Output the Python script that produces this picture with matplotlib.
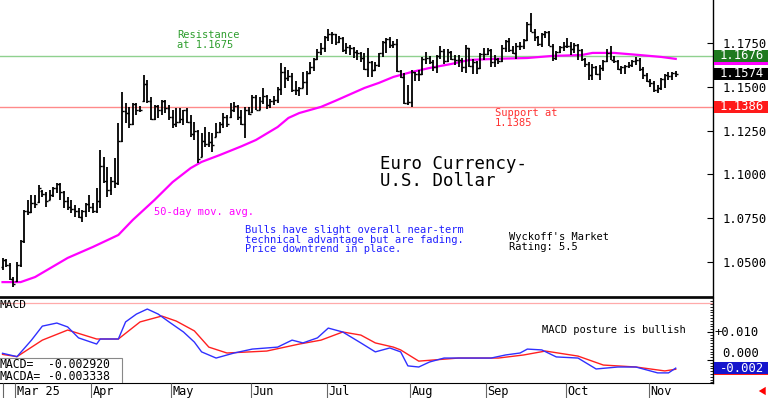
import matplotlib
matplotlib.use('Agg')
import matplotlib.pyplot as plt
import matplotlib.transforms as mtransforms
from matplotlib.patches import Rectangle
import numpy as np
import pandas as pd

plt.rcParams['font.family'] = ['DejaVu Sans Mono', 'DejaVu Sans']

#============================================================================================
# daily bars, one per weekday from 2025-02-25 to 2025-11-12
first_day = '2025-02-25'
last_day = '2025-11-12'

opens = [1.0470, 1.0512, 1.0485, 1.0400,
         1.0390, 1.0485, 1.0620, 1.0790, 1.0785, 1.0835, 1.0840, 1.0905, 1.0890, 1.0855, 1.0880,
         1.0920, 1.0945, 1.0900, 1.0850, 1.0815, 1.0800, 1.0790, 1.0755, 1.0790, 1.0830,
         1.0815, 1.0790, 1.0850, 1.1050, 1.0960, 1.0910, 1.0960, 1.0950, 1.1190, 1.1360, 1.1350,
         1.1285, 1.1400, 1.1365, 1.1420, 1.1515, 1.1420, 1.1315, 1.1390, 1.1365, 1.1420, 1.1380,
         1.1325, 1.1290, 1.1300, 1.1315, 1.1365, 1.1300, 1.1230, 1.1250, 1.1100, 1.1190, 1.1175,
         1.1185, 1.1215, 1.1240, 1.1285, 1.1330, 1.1325, 1.1365, 1.1390, 1.1325, 1.1290, 1.1370,
         1.1355, 1.1440, 1.1370, 1.1420, 1.1445, 1.1395, 1.1420, 1.1425, 1.1485, 1.1585, 1.1550,
         1.1560, 1.1480, 1.1480, 1.1495, 1.1525, 1.1580, 1.1610, 1.1660, 1.1700, 1.1720,
         1.1785, 1.1800, 1.1800, 1.1755, 1.1780, 1.1710, 1.1725, 1.1720, 1.1700, 1.1690, 1.1665,
         1.1600, 1.1640, 1.1595, 1.1625, 1.1690, 1.1755, 1.1775, 1.1740, 1.1745, 1.1590, 1.1555,
         1.1405,
         1.1415, 1.1585, 1.1570, 1.1575, 1.1660, 1.1665, 1.1640, 1.1615, 1.1675, 1.1705, 1.1645,
         1.1700, 1.1660, 1.1650, 1.1650, 1.1610, 1.1720, 1.1620, 1.1640, 1.1605, 1.1685,
         1.1685, 1.1710, 1.1640, 1.1660, 1.1645, 1.1720, 1.1760, 1.1710, 1.1695, 1.1735, 1.1735,
         1.1765, 1.1860, 1.1815, 1.1785, 1.1745, 1.1800, 1.1815, 1.1735, 1.1665, 1.1700, 1.1725,
         1.1735, 1.1730, 1.1715, 1.1740, 1.1710, 1.1660, 1.1630, 1.1565, 1.1615, 1.1570, 1.1605,
         1.1645, 1.1690, 1.1655, 1.1645, 1.1600, 1.1610, 1.1620, 1.1625, 1.1645, 1.1655, 1.1600,
         1.1565,
         1.1535, 1.1520, 1.1480, 1.1495, 1.1545, 1.1565, 1.1560, 1.1580]

highs = [1.0522, 1.0517, 1.0494, 1.0414,
         1.0500, 1.0625, 1.0796, 1.0853, 1.0882, 1.0882, 1.0939, 1.0910, 1.0899, 1.0910, 1.0928,
         1.0951, 1.0950, 1.0905, 1.0871, 1.0853, 1.0825, 1.0808, 1.0796, 1.0836, 1.0882,
         1.0836, 1.0922, 1.1139, 1.1099, 1.1042, 1.0985, 1.1093, 1.1293, 1.1470, 1.1407, 1.1385,
         1.1407, 1.1407, 1.1390, 1.1567, 1.1539, 1.1442, 1.1396, 1.1395, 1.1425, 1.1425, 1.1396,
         1.1367, 1.1379, 1.1379, 1.1367, 1.1379, 1.1339, 1.1299, 1.1253, 1.1236, 1.1270, 1.1242,
         1.1236, 1.1293, 1.1299, 1.1350, 1.1339, 1.1407, 1.1413, 1.1395, 1.1367, 1.1385, 1.1385,
         1.1450, 1.1455, 1.1440, 1.1495, 1.1455, 1.1430, 1.1445, 1.1500, 1.1636, 1.1613, 1.1596,
         1.1580, 1.1530, 1.1500, 1.1585, 1.1590, 1.1640, 1.1664, 1.1715, 1.1750, 1.1790,
         1.1830, 1.1810, 1.1800, 1.1790, 1.1785, 1.1750, 1.1740, 1.1725, 1.1710, 1.1700, 1.1695,
         1.1720, 1.1645, 1.1640, 1.1695, 1.1760, 1.1780, 1.1785, 1.1760, 1.1770, 1.1596, 1.1580,
         1.1510,
         1.1596, 1.1585, 1.1595, 1.1670, 1.1700, 1.1675, 1.1655, 1.1680, 1.1730, 1.1715, 1.1715,
         1.1705, 1.1680, 1.1680, 1.1665, 1.1740, 1.1720, 1.1660, 1.1645, 1.1690, 1.1720,
         1.1720, 1.1715, 1.1680, 1.1665, 1.1740, 1.1765, 1.1780, 1.1730, 1.1750, 1.1755, 1.1770,
         1.1870, 1.1920, 1.1830, 1.1790, 1.1805, 1.1820, 1.1820, 1.1745, 1.1705, 1.1735, 1.1755,
         1.1780, 1.1755, 1.1750, 1.1745, 1.1715, 1.1665, 1.1640, 1.1630, 1.1620, 1.1625, 1.1650,
         1.1715, 1.1730, 1.1675, 1.1650, 1.1620, 1.1625, 1.1640, 1.1650, 1.1670, 1.1665, 1.1615,
         1.1580,
         1.1545, 1.1530, 1.1510, 1.1550, 1.1570, 1.1585, 1.1585, 1.1590]

lows = [1.0455, 1.0471, 1.0397, 1.0357,
        1.0385, 1.0471, 1.0608, 1.0768, 1.0779, 1.0808, 1.0836, 1.0871, 1.0813, 1.0853, 1.0871,
        1.0893, 1.0853, 1.0808, 1.0796, 1.0779, 1.0756, 1.0750, 1.0728, 1.0756, 1.0785,
        1.0779, 1.0779, 1.0808, 1.0951, 1.0871, 1.0882, 1.0922, 1.0939, 1.1185, 1.1293, 1.1265,
        1.1282, 1.1339, 1.1356, 1.1413, 1.1407, 1.1310, 1.1310, 1.1322, 1.1339, 1.1350, 1.1310,
        1.1265, 1.1270, 1.1293, 1.1282, 1.1293, 1.1213, 1.1196, 1.1065, 1.1099, 1.1156, 1.1156,
        1.1128, 1.1213, 1.1236, 1.1265, 1.1270, 1.1322, 1.1356, 1.1310, 1.1282, 1.1208, 1.1339,
        1.1350, 1.1365, 1.1365, 1.1400, 1.1375, 1.1380, 1.1395, 1.1410, 1.1450, 1.1490, 1.1530,
        1.1470, 1.1455, 1.1445, 1.1490, 1.1450, 1.1570, 1.1590, 1.1650, 1.1680, 1.1700,
        1.1760, 1.1745, 1.1740, 1.1750, 1.1700, 1.1685, 1.1680, 1.1665, 1.1655, 1.1640, 1.1595,
        1.1555, 1.1555, 1.1590, 1.1610, 1.1670, 1.1690, 1.1720, 1.1720, 1.1585, 1.1550, 1.1400,
        1.1396,
        1.1385, 1.1535, 1.1530, 1.1565, 1.1630, 1.1630, 1.1590, 1.1580, 1.1660, 1.1630, 1.1640,
        1.1650, 1.1625, 1.1610, 1.1585, 1.1580, 1.1610, 1.1575, 1.1575, 1.1600, 1.1655,
        1.1680, 1.1610, 1.1610, 1.1630, 1.1640, 1.1700, 1.1700, 1.1685, 1.1660, 1.1710, 1.1715,
        1.1760, 1.1815, 1.1760, 1.1730, 1.1725, 1.1780, 1.1730, 1.1645, 1.1655, 1.1690, 1.1705,
        1.1720, 1.1680, 1.1690, 1.1650, 1.1645, 1.1610, 1.1540, 1.1540, 1.1565, 1.1540, 1.1590,
        1.1640, 1.1650, 1.1635, 1.1595, 1.1575, 1.1575, 1.1605, 1.1610, 1.1625, 1.1590, 1.1545,
        1.1525,
        1.1500, 1.1470, 1.1465, 1.1480, 1.1495, 1.1540, 1.1540, 1.1555]

closes = [1.0512, 1.0485, 1.0400, 1.0375,
          1.0485, 1.0620, 1.0790, 1.0785, 1.0835, 1.0830, 1.0920, 1.0890, 1.0850, 1.0880, 1.0920,
          1.0945, 1.0900, 1.0850, 1.0815, 1.0800, 1.0790, 1.0755, 1.0790, 1.0830, 1.0815,
          1.0790, 1.0850, 1.1050, 1.0960, 1.0910, 1.0960, 1.0950, 1.1190, 1.1360, 1.1350, 1.1285,
          1.1400, 1.1365, 1.1370, 1.1515, 1.1420, 1.1315, 1.1390, 1.1365, 1.1420, 1.1380, 1.1325,
          1.1290, 1.1300, 1.1315, 1.1365, 1.1300, 1.1230, 1.1250, 1.1090, 1.1190, 1.1175, 1.1185,
          1.1165, 1.1240, 1.1285, 1.1330, 1.1285, 1.1365, 1.1390, 1.1325, 1.1290, 1.1370, 1.1345,
          1.1440, 1.1370, 1.1420, 1.1445, 1.1395, 1.1420, 1.1425, 1.1485, 1.1585, 1.1550, 1.1560,
          1.1480, 1.1480, 1.1495, 1.1525, 1.1580, 1.1610, 1.1660, 1.1700, 1.1720, 1.1785,
          1.1800, 1.1800, 1.1755, 1.1780, 1.1710, 1.1725, 1.1720, 1.1700, 1.1690, 1.1665, 1.1600,
          1.1640, 1.1595, 1.1625, 1.1690, 1.1755, 1.1775, 1.1740, 1.1745, 1.1590, 1.1555, 1.1405,
          1.1415,
          1.1585, 1.1570, 1.1575, 1.1660, 1.1665, 1.1640, 1.1615, 1.1675, 1.1705, 1.1645, 1.1700,
          1.1660, 1.1650, 1.1650, 1.1610, 1.1720, 1.1620, 1.1640, 1.1605, 1.1685, 1.1685,
          1.1710, 1.1640, 1.1660, 1.1645, 1.1720, 1.1760, 1.1710, 1.1695, 1.1735, 1.1735, 1.1765,
          1.1860, 1.1815, 1.1785, 1.1745, 1.1800, 1.1815, 1.1735, 1.1665, 1.1700, 1.1725, 1.1735,
          1.1730, 1.1715, 1.1740, 1.1710, 1.1660, 1.1630, 1.1565, 1.1615, 1.1570, 1.1605, 1.1645,
          1.1690, 1.1655, 1.1645, 1.1600, 1.1610, 1.1620, 1.1625, 1.1645, 1.1655, 1.1600, 1.1565,
          1.1535,
          1.1520, 1.1480, 1.1495, 1.1545, 1.1565, 1.1560, 1.1580, 1.1574]

# 50-day moving average, read at trading-day numbers
ma_day = [0, 5, 9, 18, 25, 32, 36, 42, 47, 52, 55, 60, 66, 70, 76, 79, 82, 88, 92, 100,
          104, 108, 113, 118, 124, 129, 136, 145, 152, 160, 163, 169, 176, 182, 186]
ma_val = [1.0385, 1.0385, 1.0414, 1.0523, 1.0586, 1.0654, 1.0740, 1.0854, 1.0956, 1.1036,
          1.1071, 1.1110, 1.1160, 1.1196, 1.1270, 1.1322, 1.1350, 1.1385, 1.1420, 1.1493,
          1.1522, 1.1556, 1.1584, 1.1607, 1.1630, 1.1653, 1.1659, 1.1664, 1.1676, 1.1681,
          1.1693, 1.1693, 1.1681, 1.1670, 1.1659]

# MACD and its average (MACDA)
macd_day = [0, 4, 8, 11, 15, 18, 21, 26, 27, 32, 34, 37, 40, 43, 46, 50, 53, 55, 59, 64,
            69, 76, 80, 83, 87, 90, 94, 99, 103, 107, 110, 112, 115, 118, 122, 127, 135, 139,
            143, 145, 149, 153, 159, 164, 170, 175, 181, 184, 186]
macd_val = [0.0024, 0.0012, 0.0071, 0.0121, 0.0132, 0.0118, 0.0079, 0.0057, 0.0075, 0.0075,
            0.0136, 0.0164, 0.0182, 0.0164, 0.0136, 0.0100, 0.0064, 0.0029, 0.0007, 0.0025,
            0.0039, 0.0046, 0.0071, 0.0061, 0.0079, 0.0114, 0.0100, 0.0061, 0.0029, 0.0043,
            0.0029, -0.0021, -0.0025, -0.0007, 0.0007, 0.0007, 0.0007, 0.0018, 0.0025, 0.0039,
            0.0036, 0.0011, 0.0007, -0.0032, -0.0025, -0.0025, -0.0046, -0.0046, -0.0029]
sig_day = [0, 4, 11, 18, 26, 32, 38, 44, 48, 53, 57, 62, 73, 82, 88, 94, 99, 103, 108, 110,
           115, 126, 137, 144, 150, 159, 166, 175, 183, 186]
sig_val = [0.0020, 0.0012, 0.0071, 0.0107, 0.0075, 0.0075, 0.0136, 0.0157, 0.0139, 0.0104,
           0.0046, 0.0025, 0.0032, 0.0057, 0.0071, 0.0100, 0.0089, 0.0061, 0.0046, 0.0036,
           -0.0004, 0.0007, 0.0007, 0.0018, 0.0032, 0.0014, -0.0018, -0.0025, -0.0039, -0.0033]

resistance = 1.1676
support = 1.1386
last_close = 1.1574
ma_last = 1.1659
macd_last = -0.002920
macda_last = -0.003338
macd_box_label = '-0.002'
macd_upper = 0.0204

price_ticks = [1.0500, 1.0750, 1.1000, 1.1250, 1.1500, 1.1750]
macd_ticks = [0.000, 0.010]
macd_tick_labels = ['0.000', '+0.010']
#============================================================================================
W, H = 768, 398
fig = plt.figure(figsize=(W / 100, H / 100), dpi=100)


def fbox(x0, y0, x1, y1):
    return [x0 / W, 1 - y1 / H, (x1 - x0) / W, (y1 - y0) / H]


ax = fig.add_axes(fbox(0, 0, 713, 297))
axm = fig.add_axes(fbox(0, 298, 713, 383))
axd = fig.add_axes(fbox(0, 383, 713, 398))
xlim = (-0.7, 196.3)

# ---- price panel ----
x = np.arange(len(closes))
ax.vlines(x, lows, highs, color='black', lw=1.3, zorder=3)
ax.hlines(opens, x - 0.55, x, color='black', lw=1.0, zorder=3)
ax.hlines(closes, x, x + 0.55, color='black', lw=1.0, zorder=3)
ax.axhline(resistance, color='#8fd18f', lw=1.0, zorder=1)
ax.axhline(support, color='#ff8a8a', lw=1.0, zorder=1)
ax.plot(ma_day, ma_val, color='#ff00ff', lw=1.6, zorder=2)

ax.set_xlim(*xlim)
ax.set_ylim(1.0300, 1.1995)
ax.set_xticks([])
ax.yaxis.tick_right()
ax.set_yticks(price_ticks)
ax.set_yticklabels(['%.4f' % v for v in price_ticks])
ax.tick_params(axis='y', direction='in', length=4, pad=7, labelsize=8.8)
for s in ['left', 'top']:
    ax.spines[s].set_visible(False)
ax.spines['right'].set_linewidth(1.0)
ax.spines['bottom'].set_linewidth(1.2)


def tx(px, py, text, **kw):
    ax.text(px / 713, 1 - py / 297, text, transform=ax.transAxes, **kw)


tx(177, 30, 'Resistance\nat 1.1675', color='#2e9e2e', fontsize=7.5, va='top', linespacing=0.95)
tx(495, 108, 'Support at\n1.1385', color='#ff3030', fontsize=7.5, va='top', linespacing=0.95)
tx(154, 212, '50-day mov. avg.', color='#ff00ff', fontsize=7.5, va='center')
tx(245, 225, 'Bulls have slight overall near-term\ntechnical advantage but are fading.\n'
             'Price downtrend in place.', color='#2020ff', fontsize=7.5, va='top',
   linespacing=0.95)
tx(509, 232, "Wyckoff's Market\nRating: 5.5", color='black', fontsize=7.5, va='top',
   linespacing=0.95)
tx(380, 155, 'Euro Currency-\nU.S. Dollar', color='black', fontsize=12.5, va='top',
   linespacing=0.95)


def value_box(axis, value, text, face, px_h=12, text_color='white'):
    trans = mtransforms.blended_transform_factory(fig.transFigure, axis.transData)
    y0, y1 = axis.get_ylim()
    dh = px_h * (y1 - y0) / (axis.get_position().height * H)
    axis.add_patch(Rectangle((714 / W, value - dh / 2), 54 / W, dh, transform=trans,
                             facecolor=face, edgecolor='none', clip_on=False, zorder=5))
    if text:
        axis.text(742 / W, value, text, transform=trans, color=text_color, ha='center',
                  va='center', fontsize=8.8, clip_on=False, zorder=6)


value_box(ax, ma_last, '', '#ff00ff')
value_box(ax, resistance, '%.4f' % resistance, '#1f7a1f')
value_box(ax, last_close, '%.4f' % last_close, 'black')
value_box(ax, support, '%.4f' % support, '#ff1a1a')

# ---- MACD panel ----
axm.plot(sig_day, sig_val, color='#ff2020', lw=1.0)
axm.plot(macd_day, macd_val, color='#3030ff', lw=1.0)
axm.axhline(macd_upper, color='#ffaaaa', lw=0.9)
axm.set_xlim(*xlim)
axm.set_ylim(-0.00821, 0.02214)
axm.set_xticks([])
axm.yaxis.tick_right()
axm.set_yticks(macd_ticks)
axm.set_yticklabels([])
axm.set_yticks(np.arange(-0.008, 0.022, 0.001), minor=True)
axm.tick_params(axis='y', which='major', direction='in', length=4)
axm.tick_params(axis='y', which='minor', direction='in', length=2)
axm.spines['left'].set_visible(False)
axm.spines['top'].set_linewidth(1.2)
axm.spines['right'].set_linewidth(1.0)
axm.spines['bottom'].set_linewidth(0.8)

# right-hand MACD scale labels, right-aligned; the zero label sits just above its tick
mtrans = mtransforms.blended_transform_factory(fig.transFigure, axm.transData)
for v, lab in zip(macd_ticks, macd_tick_labels):
    axm.text(759 / W, v, lab, transform=mtrans, ha='right',
             va='center' if v else 'bottom', fontsize=8.8, clip_on=False)

axm.text(0.0, 1 - 7 / 85, 'MACD', transform=axm.transAxes, fontsize=8, va='center')
axm.text(542 / 713, 1 - 32 / 85, 'MACD posture is bullish', transform=axm.transAxes,
         fontsize=7.5, va='center')
axm.add_patch(Rectangle((-0.01, 0), 122 / 713 + 0.01, 25 / 85, transform=axm.transAxes,
                        facecolor='white', edgecolor='#888888', lw=0.8, zorder=4))
axm.text(0.0, 1 - 66 / 85, 'MACD=', transform=axm.transAxes, fontsize=8.3, va='center', zorder=5)
axm.text(0.0, 1 - 78 / 85, 'MACDA=', transform=axm.transAxes, fontsize=8.3, va='center', zorder=5)
axm.text(48 / 713, 1 - 66 / 85, '%.6f' % macd_last, transform=axm.transAxes, fontsize=8.3,
         va='center', zorder=5)
axm.text(48 / 713, 1 - 78 / 85, '%.6f' % macda_last, transform=axm.transAxes, fontsize=8.3,
         va='center', zorder=5)

value_box(axm, macda_last, '', '#ff1a1a')
value_box(axm, macd_last, macd_box_label, '#1414cc')

# ---- date strip ----
dates = pd.bdate_range(first_day, last_day)
assert len(dates) == len(closes)
axd.set_xlim(*xlim)
axd.set_ylim(0, 1)
axd.axis('off')
axd.vlines(0.1, 0, 1, color='#666666', lw=0.8)
first = True
for i in range(1, len(dates)):
    if dates[i].month != dates[i - 1].month:
        axd.vlines(i - 0.45, 0, 1, color='#666666', lw=0.8)
        label = dates[i].strftime('%b %y') if first else dates[i].strftime('%b')
        first = False
        axd.text(i - 0.05, 0.42, label, fontsize=8.6, va='center', ha='left')

axd.annotate('', xy=(756 / W, 7 / H), xytext=(768 / W, 7 / H), xycoords='figure fraction',
             textcoords='figure fraction',
             arrowprops=dict(arrowstyle='simple,head_width=0.6,head_length=0.5,tail_width=0.3',
                             color='red', lw=0))

fig.savefig('out.png', dpi=100)
